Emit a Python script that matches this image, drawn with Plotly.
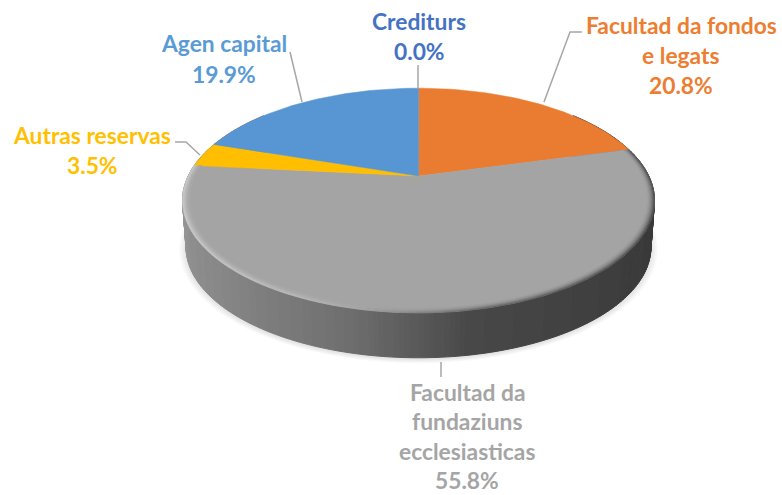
import numpy as np
import plotly.graph_objects as go

# --- data ---
categories = ["Crediturs", "Facultad da fondos e legats", "Facultad da fundaziuns ecclesiasticas", "Autras reservas", "Agen capital"]
values = [0.0, 20.8, 55.8, 3.5, 19.9]
colors = ["#4472C4", "#E97C30", "#A4A4A4", "#FFBF00", "#5896D3"]
label_lines = [
    ["Crediturs", "0.0%"],
    ["Facultad da fondos", "e legats", "20.8%"],
    ["Facultad da", "fundaziuns", "ecclesiasticas", "55.8%"],
    ["Autras reservas", "3.5%"],
    ["Agen capital", "19.9%"],
]
label_x = [419, 681, 467, 92, 224]
label_y0 = [21, 25, 392, 135, 43]
label_step = [30, 30, 29.3, 30, 31]
label_colors = ["#4472C4", "#ED7D31", "#A5A5A5", "#FFC000", "#5B9BD5"]
leaders = [
    ([418, 418], [65, 88]),
    ([582, 570, 544], [32, 32, 102]),
    ([441, 441], [362, 377]),
    ([175, 186, 200], [142, 142, 155]),
    ([290, 302], [52, 102]),
]

# --- projection of the disc ---
CX, CY, A, B, K = 418.5, 176.0, 230.3, 107.0, 0.218
DROP = 47.0
LOWER = 0.985


def project(theta, r=1.0, dy=0.0, s=1.0):
    u, v = r * np.sin(theta), r * np.cos(theta)
    d = 1 + K * v
    return CX + s * A * u / d, CY - s * B * v / d + dy


cum = np.concatenate([[0], np.cumsum(values)]) / 100 * 2 * np.pi
fig = go.Figure()


def add_poly(xs, ys, color, lw=0.0):
    fig.add_trace(go.Scatter(x=xs, y=ys, mode="lines", fill="toself", fillcolor=color,
                             line=dict(color=color, width=lw), hoverinfo="skip", showlegend=False))


def add_levels(groups, lw=1.0):
    for level, polys in sorted(groups.items()):
        xs, ys = [], []
        for px, py in polys:
            xs += list(px) + [px[0], None]
            ys += list(py) + [py[0], None]
        c = f"rgb({level},{level},{level})"
        add_poly(xs, ys, c, lw)


circle = np.linspace(0, 2 * np.pi, 240)

# soft shadow
for i in range(9):
    grow = 1.0 + 0.0035 * (9 - i)
    sx, sy = project(circle, dy=DROP + 1.5, s=LOWER * grow)
    add_poly(list(sx), list(sy), "rgba(0,0,0,0.012)")

# side wall
wall_x = [183, 190, 250, 350, 420, 470, 600, 655]
wall_g = [148, 142, 128, 110, 88, 72, 63, 58]
wall = {}
th = np.radians(np.arange(50, 311, 1.0))
for a, b in zip(th[:-1], th[1:]):
    x1, y1 = project(a)
    x2, y2 = project(b)
    x3, y3 = project(b, dy=DROP, s=LOWER)
    x4, y4 = project(a, dy=DROP, s=LOWER)
    g = int(round(np.interp((x1 + x2) / 2, wall_x, wall_g) / 2) * 2)
    wall.setdefault(g, []).append(([x1, x2, x3, x4], [y1, y2, y3, y4]))
add_levels(wall)

# top face slices
for i, val in enumerate(values):
    if val <= 0:
        continue
    t = np.linspace(cum[i], cum[i + 1], max(int(val * 3), 8))
    x, y = project(t)
    add_poly([CX] + list(x) + [CX], [CY] + list(y) + [CY], colors[i], 0.5)

# rim bevel on the large slice
rings = np.linspace(0.962, 1.0, 9)
edge_x = [183, 215, 300, 360, 418, 480, 600, 655]
edge_g = [205, 200, 185, 165, 125, 90, 70, 62]
face_g = 164
bevel = {}
t = np.linspace(cum[2], cum[3], 121)
for a, b in zip(t[:-1], t[1:]):
    mid_x, _ = project((a + b) / 2)
    e = np.interp(mid_x, edge_x, edge_g)
    for r0, r1 in zip(rings[:-1], rings[1:]):
        f = ((r0 + r1) / 2 - rings[0]) / (rings[-1] - rings[0])
        g = int(round((face_g + (e - face_g) * f ** 2.2) / 2) * 2)
        x1, y1 = project(a, r0)
        x2, y2 = project(b, r0)
        x3, y3 = project(b, r1)
        x4, y4 = project(a, r1)
        bevel.setdefault(g, []).append(([x1, x2, x3, x4], [y1, y2, y3, y4]))
add_levels(bevel, 0.6)

# leader lines
for lx, ly in leaders:
    fig.add_trace(go.Scatter(x=lx, y=ly, mode="lines", line=dict(color="#A6A6A6", width=1.5),
                             hoverinfo="skip", showlegend=False))

# labels
for lines, x0, y0, step, c in zip(label_lines, label_x, label_y0, label_step, label_colors):
    for j, line in enumerate(lines):
        fig.add_annotation(x=x0, y=y0 + step * j, text=f"<b>{line}</b>", showarrow=False,
                           xanchor="center", yanchor="middle", borderpad=0,
                           font=dict(family="Lato, Carlito, sans-serif", size=22.8, color=c))

fig.update_xaxes(range=[0, 782], visible=False, fixedrange=True)
fig.update_yaxes(range=[495, 0], visible=False, fixedrange=True)
fig.update_layout(width=782, height=495, margin=dict(l=0, r=0, t=0, b=0),
                  paper_bgcolor="white", plot_bgcolor="white", showlegend=False)
fig.write_html("out.html", config={"displayModeBar": False},
               post_script="document.body.style.margin='0';document.body.style.overflow='hidden';")
